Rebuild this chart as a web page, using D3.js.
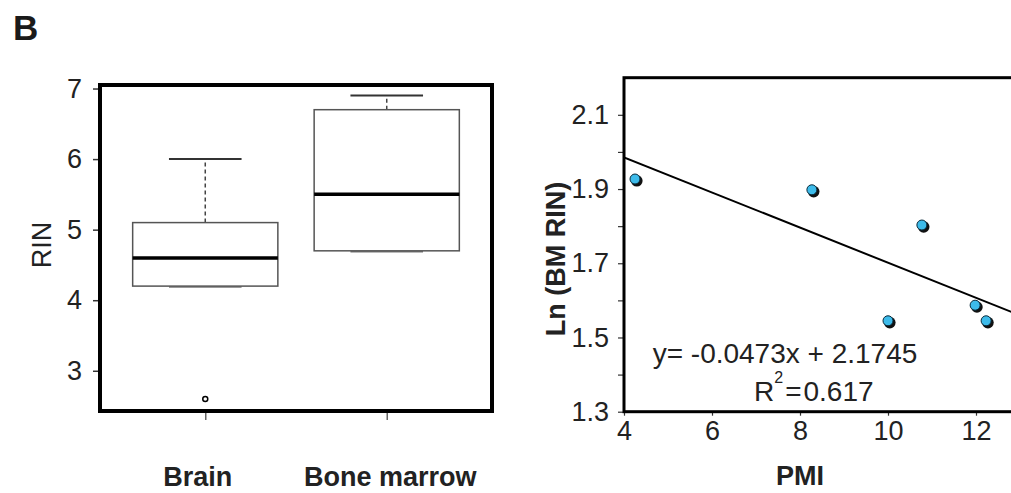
<!DOCTYPE html>
<html>
<head>
<meta charset="utf-8">
<script src="https://cdn.jsdelivr.net/npm/d3@7"></script>
<style>
  body { margin: 0; background: #fff; }
  svg { display: block; font-family: "Liberation Sans", Arial, Helvetica, sans-serif; }
  .axis path { display: none; }
  .axis text { font-family: "Liberation Sans", Arial, sans-serif; fill: #222; }
</style>
</head>
<body>
<div id="chart"></div>
<script>
// --- data: box plot (RIN by tissue) ---
var groups = ["Brain", "Bone marrow"];
var whiskLo = [4.2, 4.7];
var q1 = [4.2, 4.7];
var median = [4.6, 5.5];
var q3 = [5.1, 6.7];
var whiskHi = [6.0, 6.9];
var outlierGroup = ["Brain"];
var outlierVal = [2.6];
var rinTicks = [3, 4, 5, 6, 7];

// --- data: scatter (PMI vs ln BM RIN) ---
var pmi = [4.25, 8.27, 10.77, 10.0, 11.98, 12.23];
var lnRin = [1.927, 1.898, 1.803, 1.545, 1.587, 1.545];
var fit = { slope: -0.0473, intercept: 2.1745 };
var pmiTicks = [4, 6, 8, 10, 12];
var lnTicks = [1.3, 1.4, 1.5, 1.6, 1.7, 1.8, 1.9, 2.0, 2.1];
var lnLabels = [1.3, 1.5, 1.7, 1.9, 2.1];

var W = 1011, H = 493;

var svg = d3.select("#chart")
	.append("svg")
	.attr("width", W)
	.attr("height", H);

svg.append("text")
	.attr("x", 13)
	.attr("y", 40)
	.attr("font-size", 35)
	.attr("font-weight", "bold")
	.attr("fill", "#1a1a1a")
	.text("B");

// ================= left panel: box plot =================
var L = {left: 100, right: 492, top: 85, bottom: 411};

var x1 = d3.scalePoint().domain(groups).range([L.left, L.right]).padding(0.58),
	y1 = d3.scaleLinear().domain([2.43, 7.05]).range([L.bottom, L.top]);

var step = x1.step();

svg.append("g")
	.attr("class", "axis")
	.attr("transform", "translate(" + L.left + ",0)")
	.call(d3.axisLeft(y1).tickValues(rinTicks).tickSize(7).tickPadding(11).tickFormat(d3.format("d")))
	.call(function(g) {
		g.selectAll("line").attr("stroke", "#333").attr("stroke-width", 1.5);
		g.selectAll("text").attr("font-size", 27);
	});

svg.append("g")
	.attr("class", "axis")
	.attr("transform", "translate(0," + L.bottom + ")")
	.call(d3.axisBottom(x1).tickSize(9).tickPadding(47))
	.call(function(g) {
		g.selectAll("line").attr("stroke", "#666").attr("stroke-width", 1.5);
		g.selectAll("text")
			.attr("font-size", 27)
			.attr("font-weight", "bold")
			.attr("dx", function(d, i) { return i === 0 ? -8 : 3; });
	});

svg.append("text")
	.attr("transform", "translate(51,245) rotate(-90)")
	.attr("text-anchor", "middle")
	.attr("font-size", 27)
	.attr("fill", "#222")
	.text("RIN");

var boxes = svg.append("g").selectAll("g")
	.data(groups)
	.enter().append("g");

// whiskers (dashed)
boxes.append("line")
	.attr("x1", function(d) { return x1(d); })
	.attr("x2", function(d) { return x1(d); })
	.attr("y1", function(d, i) { return y1(q3[i]); })
	.attr("y2", function(d, i) { return y1(whiskHi[i]); })
	.attr("stroke", "#444")
	.attr("stroke-width", 1.5)
	.attr("stroke-dasharray", "4,3");

boxes.append("line")
	.attr("x1", function(d) { return x1(d); })
	.attr("x2", function(d) { return x1(d); })
	.attr("y1", function(d, i) { return y1(q1[i]); })
	.attr("y2", function(d, i) { return y1(whiskLo[i]); })
	.attr("stroke", "#444")
	.attr("stroke-width", 1.5)
	.attr("stroke-dasharray", "4,3");

// whisker caps
boxes.append("line")
	.attr("x1", function(d) { return x1(d) - step * 0.2; })
	.attr("x2", function(d) { return x1(d) + step * 0.2; })
	.attr("y1", function(d, i) { return y1(whiskHi[i]); })
	.attr("y2", function(d, i) { return y1(whiskHi[i]); })
	.attr("stroke", "#333")
	.attr("stroke-width", 2);

boxes.append("line")
	.attr("x1", function(d) { return x1(d) - step * 0.2; })
	.attr("x2", function(d) { return x1(d) + step * 0.2; })
	.attr("y1", function(d, i) { return y1(whiskLo[i]) + 1; })
	.attr("y2", function(d, i) { return y1(whiskLo[i]) + 1; })
	.attr("stroke", "#777")
	.attr("stroke-width", 1.5);

// boxes
boxes.append("rect")
	.attr("x", function(d) { return x1(d) - step * 0.4; })
	.attr("width", step * 0.8)
	.attr("y", function(d, i) { return y1(q3[i]); })
	.attr("height", function(d, i) { return y1(q1[i]) - y1(q3[i]); })
	.attr("fill", "#fff")
	.attr("stroke", "#555")
	.attr("stroke-width", 1.5);

// medians
boxes.append("line")
	.attr("x1", function(d) { return x1(d) - step * 0.4; })
	.attr("x2", function(d) { return x1(d) + step * 0.4; })
	.attr("y1", function(d, i) { return y1(median[i]); })
	.attr("y2", function(d, i) { return y1(median[i]); })
	.attr("stroke", "#000")
	.attr("stroke-width", 3.5);

svg.append("g").selectAll("circle")
	.data(outlierVal)
	.enter().append("circle")
	.attr("cx", function(d, i) { return x1(outlierGroup[i]); })
	.attr("cy", function(d) { return y1(d); })
	.attr("r", 2.5)
	.attr("fill", "#fff")
	.attr("stroke", "#000")
	.attr("stroke-width", 1.5);

// frame
svg.append("rect")
	.attr("x", L.left)
	.attr("y", L.top)
	.attr("width", L.right - L.left)
	.attr("height", L.bottom - L.top)
	.attr("fill", "none")
	.attr("stroke", "#000")
	.attr("stroke-width", 4);

// ================= right panel: scatter =================
var R = {left: 624, right: 1020, top: 77.7, bottom: 411.7};

var x2 = d3.scaleLinear().domain([4, 13]).range([R.left, R.right]),
	y2 = d3.scaleLinear().domain([1.3, 2.2]).range([R.bottom, R.top]);

svg.append("g")
	.attr("class", "axis")
	.attr("transform", "translate(" + R.left + ",0)")
	.call(d3.axisLeft(y2).tickValues(lnTicks).tickSize(6).tickPadding(9)
		.tickFormat(function(d) {
			return lnLabels.some(function(v) { return Math.abs(v - d) < 1e-6; }) ? d3.format(".1f")(d) : "";
		}))
	.call(function(g) {
		g.selectAll("line").attr("stroke", "#333").attr("stroke-width", 1.2);
		g.selectAll("text").attr("font-size", 27);
	});

svg.append("g")
	.attr("class", "axis")
	.attr("transform", "translate(0," + R.bottom + ")")
	.call(d3.axisBottom(x2).tickValues(pmiTicks).tickSize(4).tickPadding(5))
	.call(function(g) {
		g.selectAll("line").attr("stroke", "#333").attr("stroke-width", 1.2);
		g.selectAll("text").attr("font-size", 27);
	});

svg.append("text")
	.attr("transform", "translate(565,259) rotate(-90)")
	.attr("text-anchor", "middle")
	.attr("font-size", 27)
	.attr("font-weight", "bold")
	.attr("fill", "#222")
	.text("Ln (BM RIN)");

svg.append("text")
	.attr("x", 800)
	.attr("y", 485)
	.attr("text-anchor", "middle")
	.attr("font-size", 27)
	.attr("font-weight", "bold")
	.attr("fill", "#222")
	.text("PMI");

svg.append("clipPath")
	.attr("id", "clipR")
	.append("rect")
	.attr("x", R.left)
	.attr("y", R.top)
	.attr("width", R.right - R.left)
	.attr("height", R.bottom - R.top);

var fitX = x2.domain();
svg.append("line")
	.attr("clip-path", "url(#clipR)")
	.attr("x1", x2(fitX[0]))
	.attr("y1", y2(fit.slope * fitX[0] + fit.intercept))
	.attr("x2", x2(fitX[1]))
	.attr("y2", y2(fit.slope * fitX[1] + fit.intercept))
	.attr("stroke", "#000")
	.attr("stroke-width", 2);

var pts = svg.append("g").selectAll("g")
	.data(pmi)
	.enter().append("g")
	.attr("transform", function(d, i) { return "translate(" + x2(d) + "," + y2(lnRin[i]) + ")"; });

// shadow then blue dot
pts.append("circle")
	.attr("cx", 1.8)
	.attr("cy", 1.8)
	.attr("r", 5.8)
	.attr("fill", "#111");

pts.append("circle")
	.attr("r", 5)
	.attr("fill", "#3dbbea")
	.attr("stroke", "#0a2a3a")
	.attr("stroke-width", 1);

// equation
svg.append("text")
	.attr("x", 785)
	.attr("y", 363)
	.attr("text-anchor", "middle")
	.attr("font-size", 28)
	.attr("fill", "#222")
	.text("y= -0.0473x + 2.1745");

var r2 = svg.append("text")
	.attr("x", 754)
	.attr("y", 401)
	.attr("font-size", 28)
	.attr("fill", "#222");
r2.append("tspan").text("R");
r2.append("tspan").attr("font-size", 16).attr("dy", -18).attr("dx", 0).text("2");
r2.append("tspan").attr("dy", 18).attr("dx", 2).text("=");
r2.append("tspan").attr("dx", 2).text("0.617");

// frame (right side runs off the page)
svg.append("rect")
	.attr("x", R.left)
	.attr("y", R.top)
	.attr("width", R.right - R.left)
	.attr("height", R.bottom - R.top)
	.attr("fill", "none")
	.attr("stroke", "#000")
	.attr("stroke-width", 3);
</script>
</body>
</html>
